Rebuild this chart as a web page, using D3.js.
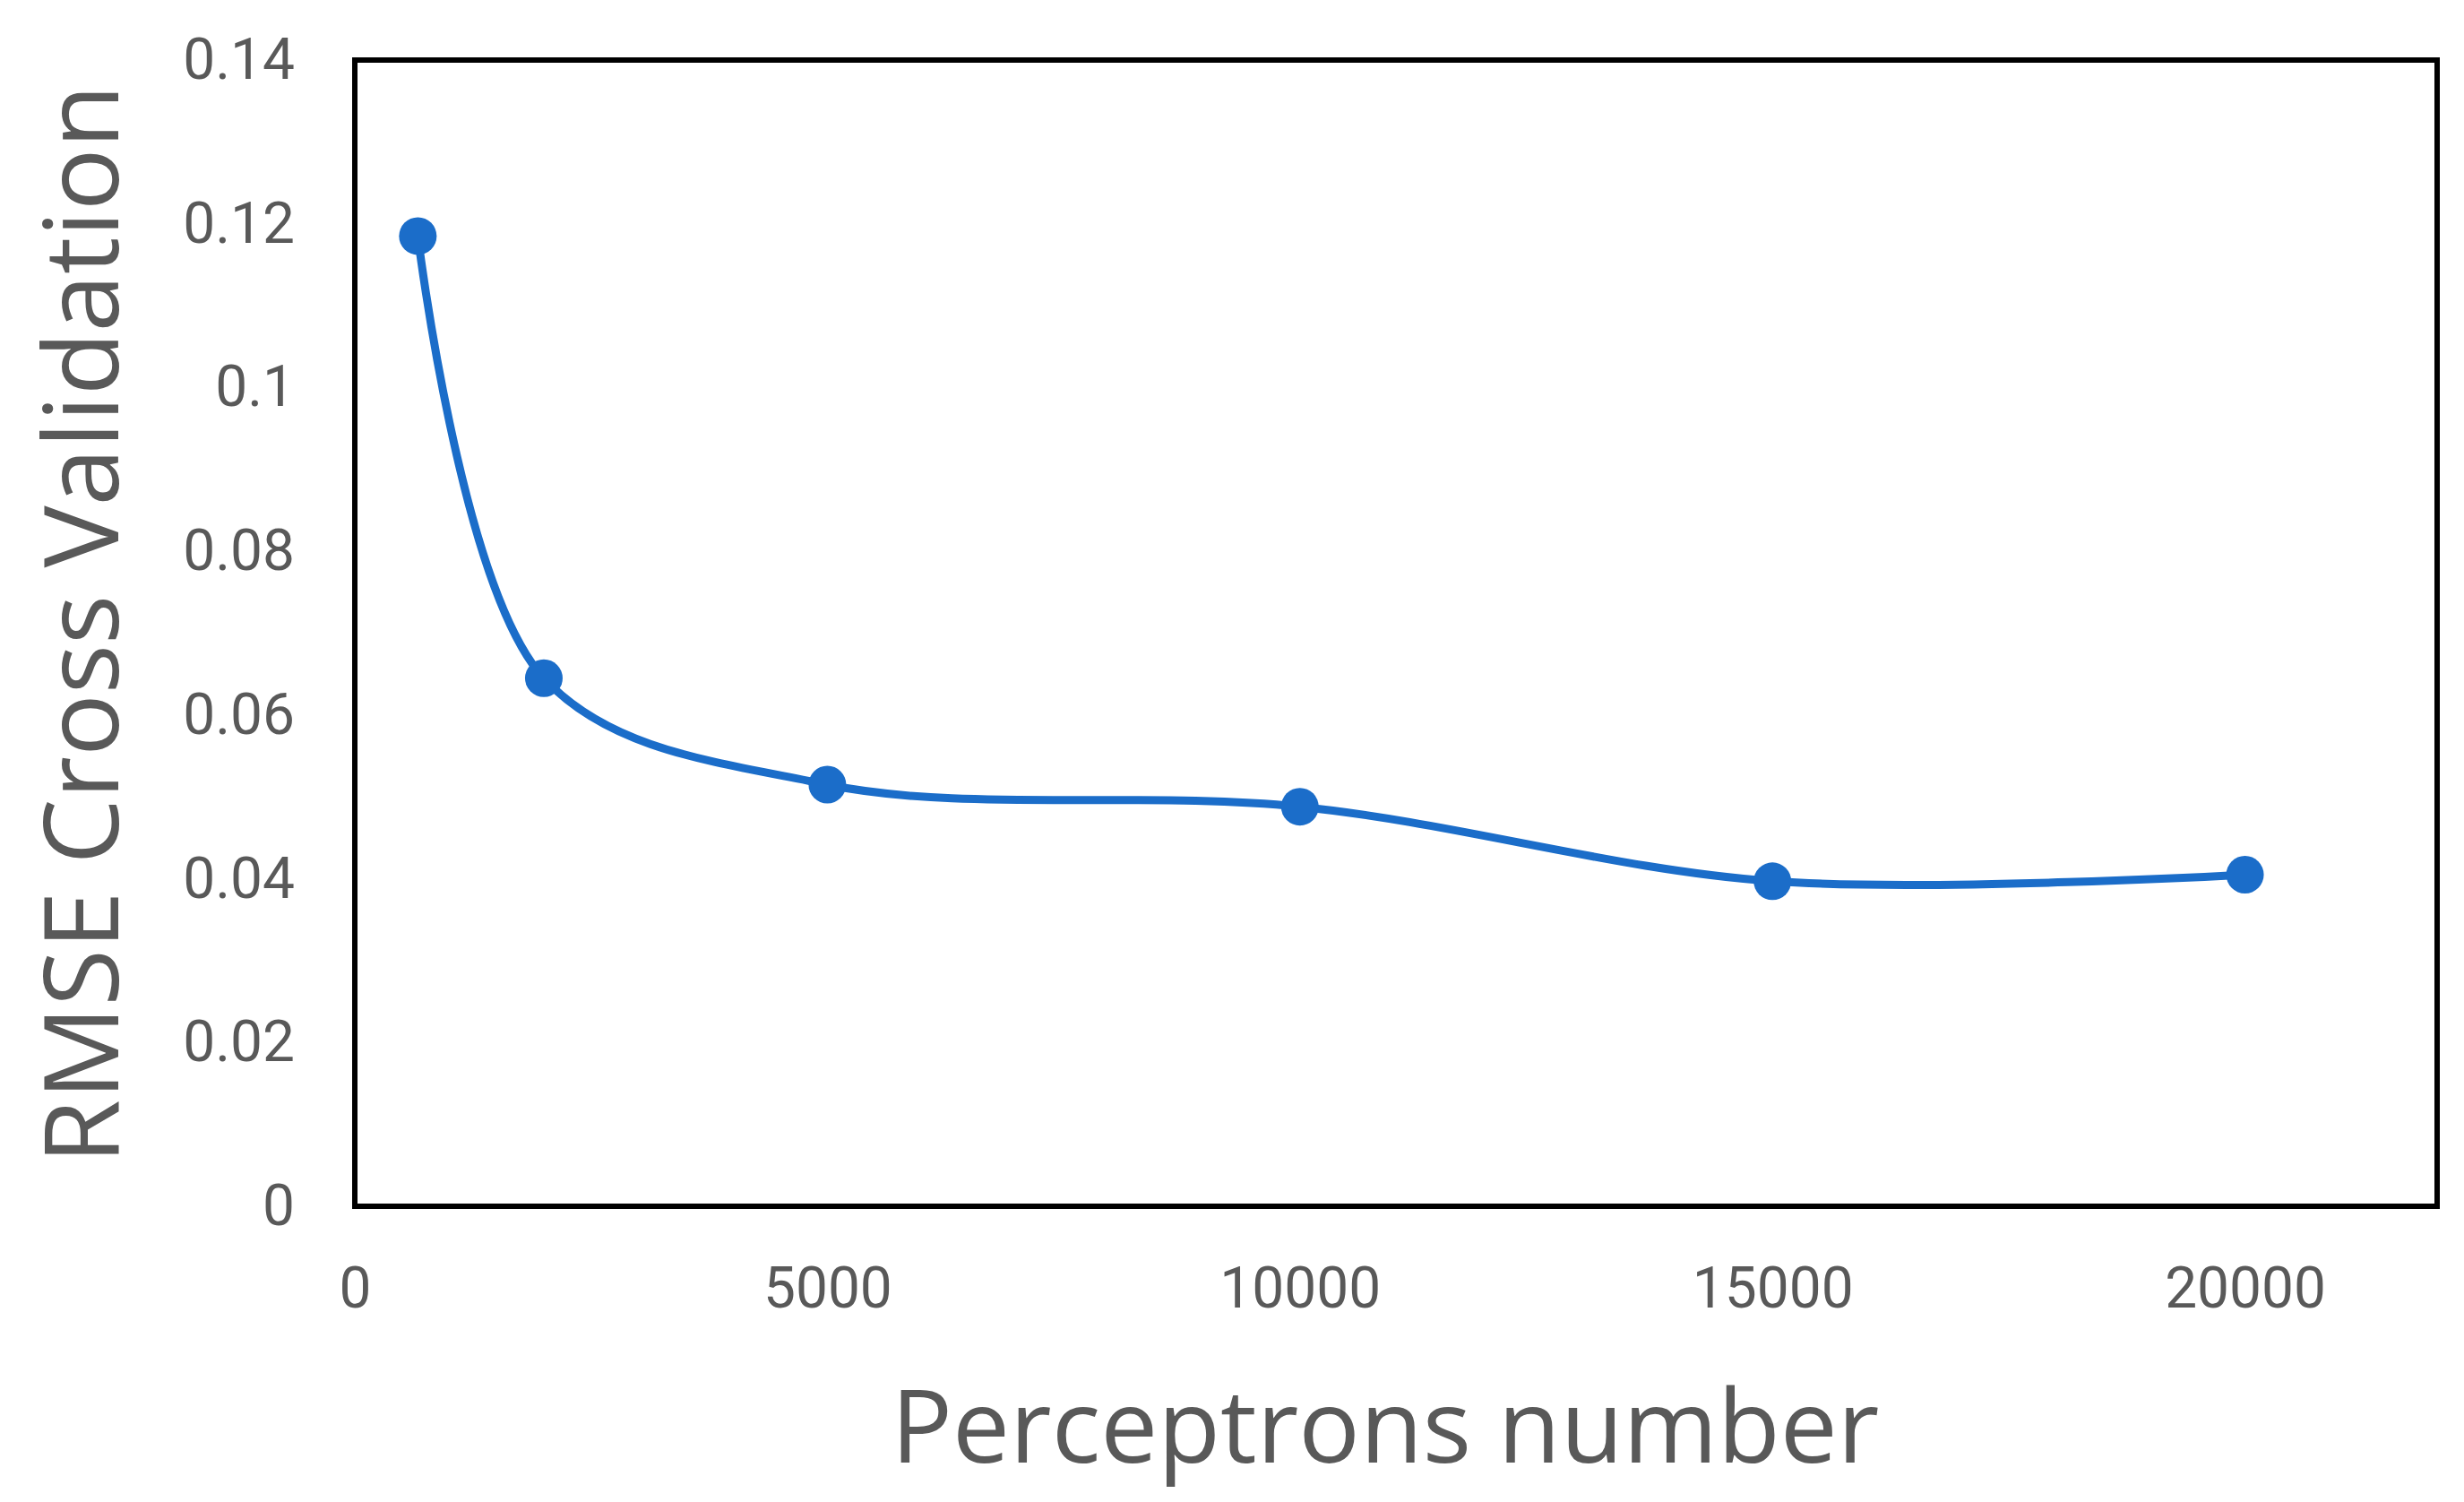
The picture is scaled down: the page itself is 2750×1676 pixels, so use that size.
<!DOCTYPE html>
<html>
<head>
<meta charset="utf-8">
<script src="https://cdn.jsdelivr.net/npm/d3@7"></script>
<style>
  body { margin: 0; background: #fff; }
</style>
</head>
<body>
<div class="chart"></div>
<script>
// data
const perceptrons = [667, 2000, 5000, 10000, 15000, 20000];
const rmse = [0.1185, 0.0645, 0.0515, 0.0488, 0.0397, 0.0405];
const xTicks = [0, 5000, 10000, 15000, 20000];
const yTicks = [0, 0.02, 0.04, 0.06, 0.08, 0.1, 0.12, 0.14];

const width = 2750, height = 1676;
const margin = ({top: 67, right: 30, bottom: 330, left: 396});
const tickFont = "'Liberation Sans Narrow', Roboto, sans-serif";
const titleFont = "'Open Sans', 'Noto Sans', sans-serif";
const blue = "#1b6dc9";

const x = d3.scaleLinear().domain([0, 22033]).range([margin.left, 2720]);
const y = d3.scaleLinear().domain([0, 0.14]).range([1346, margin.top]);

const svg = d3.select(".chart").append("svg")
    .attr("width", width)
    .attr("height", height)
    .attr("viewBox", [0, 0, width, height]);

// y axis labels
svg.append("g")
    .attr("transform", `translate(${x(0)},0)`)
    .call(d3.axisLeft(y).tickValues(yTicks).tickSize(0).tickPadding(67).tickFormat(d => d3.format("~g")(d)))
    .call(g => g.select(".domain").remove())
    .call(g => g.selectAll("text")
        .attr("font-family", tickFont)
        .attr("font-size", 64)
        .attr("fill", "#595959"));

// x axis labels
svg.append("g")
    .attr("transform", `translate(0,${y(0)})`)
    .call(d3.axisBottom(x).tickValues(xTicks).tickSize(0).tickPadding(68).tickFormat(d3.format("d")))
    .call(g => g.select(".domain").remove())
    .call(g => g.selectAll("text")
        .attr("font-family", tickFont)
        .attr("font-size", 64)
        .attr("fill", "#595959"));

// plot frame
svg.append("rect")
    .attr("x", x(0))
    .attr("y", y(0.14))
    .attr("width", x.range()[1] - x(0))
    .attr("height", y(0) - y(0.14))
    .attr("fill", "none")
    .attr("stroke", "#000")
    .attr("stroke-width", 6);

const line = d3.line()
    .curve(d3.curveCatmullRom.alpha(0.5))
    .x((d, i) => x(perceptrons[i]))
    .y(d => y(d));

svg.append("path")
    .attr("fill", "none")
    .attr("stroke", blue)
    .attr("stroke-width", 9)
    .attr("d", line(rmse));

svg.append("g")
    .attr("fill", blue)
    .selectAll("circle")
    .data(rmse)
    .join("circle")
    .attr("cx", (d, i) => x(perceptrons[i]))
    .attr("cy", d => y(d))
    .attr("r", 21);

// axis titles
svg.append("text")
    .attr("x", (x(0) + x.range()[1]) / 2 - 12)
    .attr("y", 1632)
    .attr("text-anchor", "middle")
    .attr("font-family", titleFont)
    .attr("font-size", 114)
    .attr("fill", "#595959")
    .text("Perceptrons number");

svg.append("text")
    .attr("transform", `translate(132,${(y(0) + y(0.14)) / 2 - 10}) rotate(-90)`)
    .attr("text-anchor", "middle")
    .attr("font-family", titleFont)
    .attr("font-size", 116)
    .attr("fill", "#595959")
    .text("RMSE Cross Validation");
</script>
</body>
</html>
